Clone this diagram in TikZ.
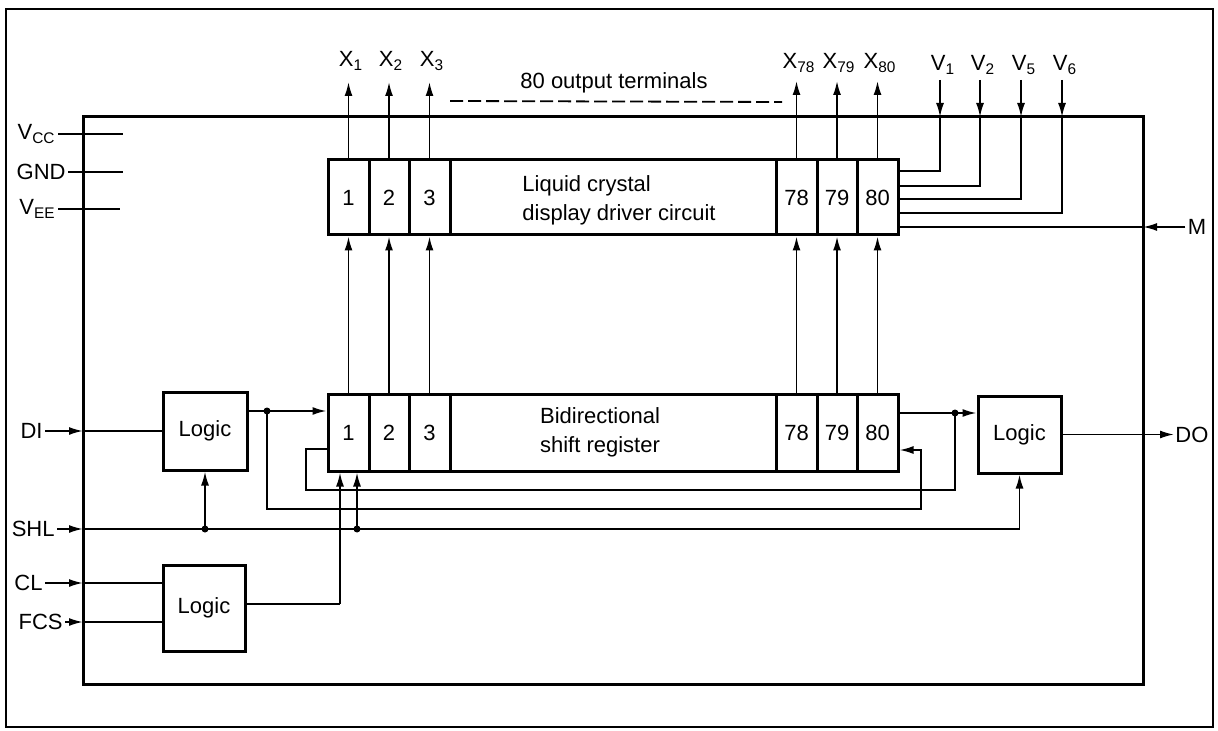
\documentclass[tikz,border=0pt]{standalone}
\usepackage{fontspec}
\setmainfont{Liberation Sans}
\usetikzlibrary{arrows.meta}
\begin{document}
\begin{tikzpicture}[x=0.5pt,y=-0.5pt,
  sig/.style={line width=0.9pt},
  arr/.style={sig,-{Latex[length=7pt,width=4pt]}},
  box/.style={draw,line width=1.5pt,inner sep=0pt,font=\fontsize{11}{13}\selectfont},
  lbl/.style={inner sep=1pt,font=\fontsize{11}{13}\selectfont},
  txt/.style={inner sep=0pt,align=left,font=\fontsize{11}{14.5}\selectfont},
  jdot/.style={circle,fill,inner sep=0pt,minimum size=3.5pt}]
\useasboundingbox (0,0) rectangle (1218,731);
% outer frame
\draw[line width=1.3pt] (6,9) rectangle (1213,727);
% chip outline
\node[box,minimum width=530pt,minimum height=283.5pt] (chip) at (613,400.5) {};

% LCD driver block
\node[box,minimum width=20.5pt,minimum height=37.5pt] (l1) at (348.5,197.5) {1};
\node[box,minimum width=20pt,minimum height=37.5pt] (l2) at (389,197.5) {2};
\node[box,minimum width=20.5pt,minimum height=37.5pt] (l3) at (429.5,197.5) {3};
\node[box,minimum width=163pt,minimum height=37.5pt] (lm) at (613,197.5) {};
\node[box,minimum width=20.5pt,minimum height=37.5pt] (l78) at (796.5,197.5) {78};
\node[box,minimum width=20pt,minimum height=37.5pt] (l79) at (837,197.5) {79};
\node[box,minimum width=20.5pt,minimum height=37.5pt] (l80) at (877.5,197.5) {80};
\node[txt] (ltxt) at (619,200) {Liquid crystal\\display driver circuit};

% shift register block
\node[box,minimum width=20.5pt,minimum height=38.5pt] (s1) at (348.5,432.5) {1};
\node[box,minimum width=20pt,minimum height=38.5pt] (s2) at (389,432.5) {2};
\node[box,minimum width=20.5pt,minimum height=38.5pt] (s3) at (429.5,432.5) {3};
\node[box,minimum width=163pt,minimum height=38.5pt] (sm) at (613,432.5) {};
\node[box,minimum width=20.5pt,minimum height=38.5pt] (s78) at (796.5,432.5) {78};
\node[box,minimum width=20pt,minimum height=38.5pt] (s79) at (837,432.5) {79};
\node[box,minimum width=20.5pt,minimum height=38.5pt] (s80) at (877.5,432.5) {80};
\node[txt] (stxt) at (600,432.5) {Bidirectional\\shift register};

% logic blocks
\node[box,minimum width=42pt,minimum height=39pt] (g1) at (205,431) {Logic};
\node[box,minimum width=41.5pt,minimum height=38.5pt] (g3) at (1019.5,434.5) {Logic};
\node[box,minimum width=41pt,minimum height=43pt] (g2) at (204,608) {Logic};

% supply pins
\node[lbl,anchor=east] (vcc) at (58,134) {V\textsubscript{CC}};
\node[lbl,anchor=east] (gnd) at (68,172) {GND};
\node[lbl,anchor=east] (vee) at (58,209) {V\textsubscript{EE}};
\coordinate (vccE) at (123,134);
\coordinate (gndE) at (123,172);
\coordinate (veeE) at (120,209);
\draw[sig] (vcc.east) -- (vccE);
\draw[sig] (gnd.east) -- (gndE);
\draw[sig] (vee.east) -- (veeE);

% output terminals
\node[lbl] (x1) at (351,61) {X\textsubscript{1}};
\node[lbl] (x2) at (391,61) {X\textsubscript{2}};
\node[lbl] (x3) at (432,61) {X\textsubscript{3}};
\node[lbl] (x78) at (799,63) {X\textsubscript{78}};
\node[lbl] (x79) at (839,63) {X\textsubscript{79}};
\node[lbl] (x80) at (880,63) {X\textsubscript{80}};
\coordinate (x1t) at (348.5,82);
\coordinate (x2t) at (389,82);
\coordinate (x3t) at (429.5,82);
\coordinate (x78t) at (796.5,81);
\coordinate (x79t) at (837,81);
\coordinate (x80t) at (877.5,81);
\draw[arr] (l1.north) -- (x1t);
\draw[arr] (l2.north) -- (x2t);
\draw[arr] (l3.north) -- (x3t);
\draw[arr] (l78.north) -- (x78t);
\draw[arr] (l79.north) -- (x79t);
\draw[arr] (l80.north) -- (x80t);
\node[lbl] (term) at (614,83) {80 output terminals};
\coordinate (dA) at (450,101);
\coordinate (dB) at (782,102);
\draw[sig,dash pattern=on 6.5pt off 2.5pt] (dA) -- (dB);

% shift register to driver
\draw[arr] (s1.north) -- (l1.south);
\draw[arr] (s2.north) -- (l2.south);
\draw[arr] (s3.north) -- (l3.south);
\draw[arr] (s78.north) -- (l78.south);
\draw[arr] (s79.north) -- (l79.south);
\draw[arr] (s80.north) -- (l80.south);

% V inputs
\node[lbl] (v1) at (943,65) {V\textsubscript{1}};
\node[lbl] (v2) at (983,65) {V\textsubscript{2}};
\node[lbl] (v5) at (1024,65) {V\textsubscript{5}};
\node[lbl] (v6) at (1065,65) {V\textsubscript{6}};
\coordinate (v1s) at (940,80);  \coordinate (v1t) at (940,117);  \coordinate (v1b) at (940,171);
\coordinate (v2s) at (980,80);  \coordinate (v2t) at (980,117);  \coordinate (v2b) at (980,186);
\coordinate (v5s) at (1021,80); \coordinate (v5t) at (1021,117); \coordinate (v5b) at (1021,199);
\coordinate (v6s) at (1062,80); \coordinate (v6t) at (1062,117); \coordinate (v6b) at (1062,213);
\draw[arr] (v1s) -- (v1t);
\draw[arr] (v2s) -- (v2t);
\draw[arr] (v5s) -- (v5t);
\draw[arr] (v6s) -- (v6t);
\draw[sig] (v1t) -- (v1b) -- (l80.east |- v1b);
\draw[sig] (v2t) -- (v2b) -- (l80.east |- v2b);
\draw[sig] (v5t) -- (v5b) -- (l80.east |- v5b);
\draw[sig] (v6t) -- (v6b) -- (l80.east |- v6b);

% M input
\node[lbl] (m) at (1197,227) {M};
\coordinate (mt) at (1143,227);
\draw[arr] (m.west) -- (mt);
\draw[sig] (mt) -- (l80.east |- mt);

% DI input
\node[lbl,anchor=east] (di) at (45,431) {DI};
\coordinate (dit) at (83,431);
\draw[arr] (di.east) -- (dit);
\draw[sig] (dit) -- (g1.west);

% logic 1 output to cell 1
\coordinate (j1) at (267,411);
\draw[arr] (g1.east |- j1) -- (s1.west |- j1);
\node[jdot] at (j1) {};
% logic 1 output to cell 80 (shift left)
\coordinate (b1) at (267,509);
\coordinate (b2) at (921,509);
\coordinate (b3) at (921,450);
\draw[arr] (j1) -- (b1) -- (b2) -- (b3) -- (s80.east |- b3);

% cell 1 / cell 80 outputs to logic 3
\coordinate (a1) at (306,449);
\coordinate (a2) at (306,490);
\coordinate (a3) at (955,490);
\coordinate (j4) at (955,413);
\draw[sig] (s1.west |- a1) -- (a1) -- (a2) -- (a3) -- (j4);
\draw[arr] (s80.east |- j4) -- (g3.west |- j4);
\node[jdot] at (j4) {};

% SHL
\node[lbl,anchor=east] (shl) at (57,529) {SHL};
\coordinate (shlt) at (83,529);
\coordinate (j2) at (205,529);
\coordinate (j3) at (357,529);
\draw[arr] (shl.east) -- (shlt);
\draw[sig] (shlt) -- (g3.south |- shlt);
\draw[arr] (g3.south |- shlt) -- (g3.south);
\draw[arr] (j2) -- (g1.south);
\draw[arr] (j3) -- (s1.south -| j3);
\node[jdot] at (j2) {};
\node[jdot] at (j3) {};

% CL, FCS and logic 2
\node[lbl,anchor=east] (cl) at (45,583) {CL};
\node[lbl,anchor=east] (fcs) at (65,622) {FCS};
\coordinate (clt) at (83,583);
\coordinate (fcst) at (83,622);
\draw[arr] (cl.east) -- (clt);
\draw[sig] (clt) -- (g2.west |- clt);
\draw[arr] (fcs.east) -- (fcst);
\draw[sig] (fcst) -- (g2.west |- fcst);
\coordinate (k1) at (340,604);
\draw[sig] (g2.east |- k1) -- (k1);
\draw[arr] (k1) -- (s1.south -| k1);

% DO output
\node[lbl,anchor=west,inner sep=0.5pt] (do) at (1174,434.5) {DO};
\draw[arr] (g3.east) -- (do.west);
\end{tikzpicture}
\end{document}
